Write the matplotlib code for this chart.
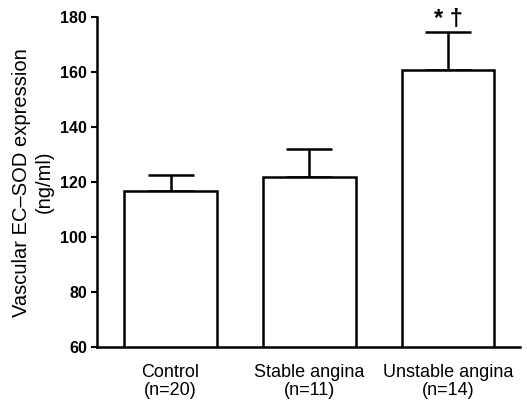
import numpy as np
import matplotlib.pyplot as plt

plt.rcParams['font.family'] = ['Liberation Sans', 'DejaVu Sans']

# data
groups = ['Control\n(n=20)', 'Stable angina\n(n=11)', 'Unstable angina\n(n=14)']
means = [116.6, 121.8, 160.6]
sem = [6.1, 10.1, 13.8]

fig = plt.figure(figsize=(5.27, 4.07), dpi=100)
ax = fig.add_axes([0.184, 0.147, 0.803, 0.811])

x = np.arange(len(groups))
ax.bar(x, means, width=0.67, color='white', edgecolor='black', linewidth=1.8, zorder=2)
ax.errorbar(x, means, yerr=[np.zeros(len(sem)), sem], fmt='none', ecolor='black',
            elinewidth=1.8, capsize=16.5, capthick=1.8, zorder=1)

ax.text(x[2], means[2] + sem[2] + 0.5, '* \u2020', ha='center', va='bottom',
        fontsize=17, fontweight='bold')

ax.set_xlim(-0.53, 2.52)
ax.set_ylim(60, 180)
ax.set_yticks(np.arange(60, 181, 20))
ax.set_xticks(x)
ax.set_xticklabels(groups, fontsize=13, linespacing=1.1)
ax.tick_params(axis='x', length=0, pad=12)
ax.tick_params(axis='y', length=4, width=1.5, labelsize=11.5, pad=3)
for lab in ax.get_yticklabels():
    lab.set_fontweight('bold')

ax.spines['top'].set_visible(False)
ax.spines['right'].set_visible(False)
ax.spines['left'].set_linewidth(1.8)
ax.spines['bottom'].set_linewidth(1.8)

ax.set_ylabel('Vascular EC\u2013SOD expression\n(ng/ml)', fontsize=14.5, linespacing=1.2, labelpad=5)

fig.savefig('out.png', dpi=100)
